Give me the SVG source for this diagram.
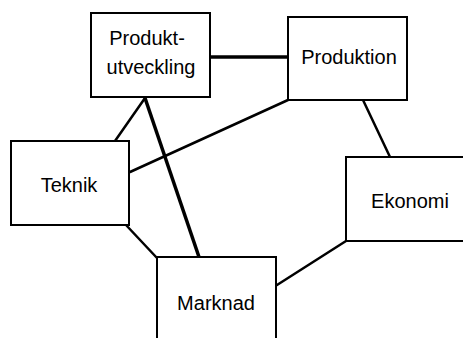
<svg xmlns="http://www.w3.org/2000/svg" width="463" height="338" viewBox="0 0 463 338">
<style>
.box{fill:#fff;stroke:#000;stroke-width:2}
.t{font-family:"Liberation Sans",Arial,sans-serif;font-size:20px;fill:#000;text-anchor:middle}
.c{stroke:#000;stroke-width:2.5;fill:none;stroke-linecap:round}
.ct{stroke:#000;stroke-width:3.5;fill:none}
</style>
<rect width="463" height="338" fill="#fff"/>
<g id="connectors">
<line class="ct" x1="210" y1="57" x2="288" y2="57"/>
<line class="c" x1="145" y1="98" x2="115" y2="141"/>
<line class="ct" x1="145" y1="98" x2="199" y2="257"/>
<line class="c" x1="288" y1="100" x2="130" y2="172"/>
<line class="c" x1="126" y1="225" x2="157" y2="258"/>
<line class="c" x1="363" y1="100" x2="390" y2="157"/>
<line class="c" x1="277" y1="285" x2="346" y2="241"/>
</g>
<g id="produktutveckling">
<rect class="box" x="91" y="13" width="119" height="84"/>
<text class="t" x="147" y="45">Produkt-</text>
<text class="t" x="151" y="74">utveckling</text>
</g>
<g id="produktion">
<rect class="box" x="288" y="17" width="119" height="83"/>
<text class="t" x="349" y="64">Produktion</text>
</g>
<g id="teknik">
<rect class="box" x="11" y="141" width="118" height="84"/>
<text class="t" x="69" y="192">Teknik</text>
</g>
<g id="ekonomi">
<rect class="box" x="346" y="157" width="130" height="84"/>
<text class="t" x="410" y="208">Ekonomi</text>
</g>
<g id="marknad">
<rect class="box" x="157" y="257" width="119" height="100"/>
<text class="t" x="216" y="310">Marknad</text>
</g>
</svg>
